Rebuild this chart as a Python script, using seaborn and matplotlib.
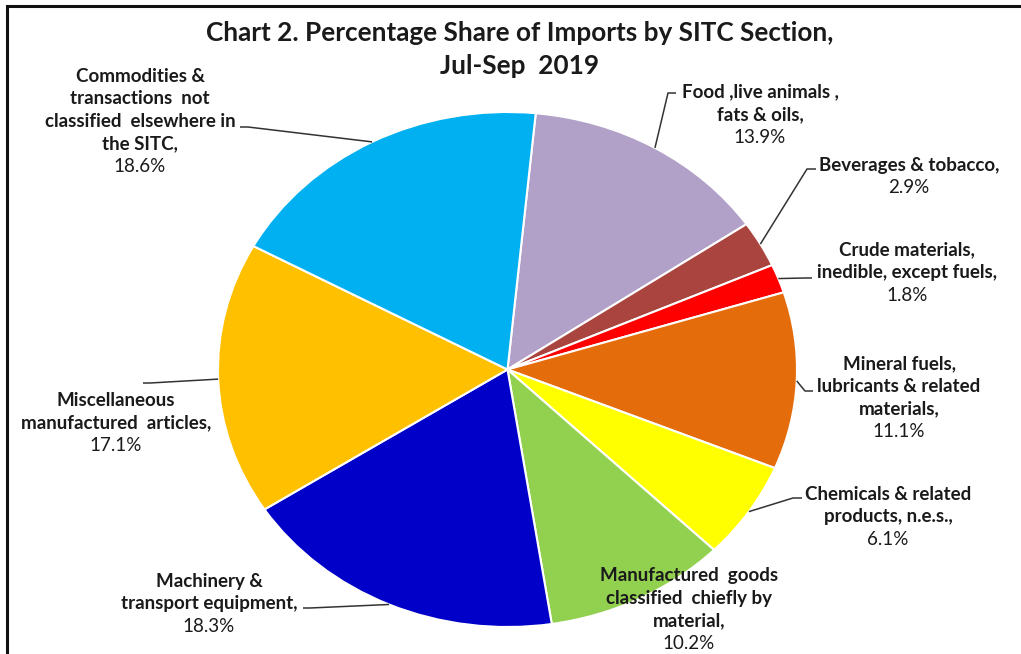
import matplotlib
matplotlib.use("Agg")
import matplotlib.pyplot as plt
import numpy as np
import seaborn as sns
from matplotlib.patches import Rectangle

# === DATA === #
sections = [
    "Food ,live animals ,\nfats & oils,",
    "Beverages & tobacco,",
    "Crude materials,\ninedible, except fuels,",
    "Mineral fuels,\nlubricants & related\nmaterials,",
    "Chemicals & related\nproducts, n.e.s.,",
    "Manufactured  goods\nclassified  chiefly by\nmaterial,",
    "Machinery &\ntransport equipment,",
    "Miscellaneous\nmanufactured  articles,",
    "Commodities &\ntransactions  not\nclassified  elsewhere in\nthe SITC,",
]
shares = [13.9, 2.9, 1.8, 11.1, 6.1, 10.2, 18.3, 17.1, 18.6]
colors = ["#B1A0C7", "#A9443F", "#FF0000", "#E46C0A", "#FFFF00",
          "#92D050", "#0000C8", "#FFC000", "#00B0F0"]

# === LAYOUT (pixels of the 1021x654 canvas) === #
W, H = 1021, 654
CX, CY, RX, RY = 507.5, 369.5, 289.5, 257.5
# label block: centre x, first line y
label_pos = [(760, 92), (909, 165), (907, 250), (899, 364), (888, 494),
             (689, 576), (209, 581), (116, 400), (140, 76)]
# leader: elbow point and attach point at the label (None = no leader)
leaders = [((668, 93), (676, 93)), ((807, 169), (816, 169)),
           ((805, 278), (812, 278)), ((805, 391), (813, 391)),
           ((793, 498), (802, 498)), None,
           ((310, 608), (303, 608)), ((150, 383), (143, 383)),
           ((248, 127), (240, 127))]
LINE_STEP = 22.6
LABEL_SIZE = 13.5
TITLE_SIZE = 18.8

sns.set_theme(style="white")
plt.rcParams["font.family"] = ["Lato", "DejaVu Sans"]


def to_data(px, py):
    return (px - CX) / RX, (CY - py) / RY


fig = plt.figure(figsize=(W / 100, H / 100), dpi=100)
ax = fig.add_axes([0, 0, 1, 1])

wedges, _ = ax.pie(
    shares, colors=colors, startangle=84.4, counterclock=False, radius=1,
    wedgeprops=dict(edgecolor="white", linewidth=1.5),
)
ax.set_aspect("auto")
x0, _ = to_data(0, 0)
x1, _ = to_data(W, 0)
_, y0 = to_data(0, H)
_, y1 = to_data(0, 0)
ax.set_xlim(x0, x1)
ax.set_ylim(y0, y1)
ax.axis("off")

for name, val, w, (lx, ly), lead in zip(sections, shares, wedges, label_pos, leaders):
    lines = name.split("\n")
    for i, ln in enumerate(lines):
        tx, ty = to_data(lx, ly + i * LINE_STEP)
        ax.text(tx, ty, ln, ha="center", va="center", fontsize=LABEL_SIZE,
                fontweight="bold", color="#1a1a1a")
    tx, ty = to_data(lx, ly + len(lines) * LINE_STEP)
    ax.text(tx, ty, f"{val:.1f}%", ha="center", va="center", fontsize=LABEL_SIZE,
            color="#1a1a1a")
    if lead is not None:
        mid = np.deg2rad((w.theta1 + w.theta2) / 2)
        ex, ey = np.cos(mid), np.sin(mid)
        bx, by = to_data(*lead[0])
        ax_, ay_ = to_data(*lead[1])
        ax.plot([ex, bx, ax_], [ey, by, ay_], color="#333333", lw=1.1,
                clip_on=False, solid_capstyle="butt")

tx, ty = to_data(520, 33)
ax.text(tx, ty, "Chart 2. Percentage Share of Imports by SITC Section,",
        ha="center", va="center", fontsize=TITLE_SIZE, fontweight="bold", color="#1a1a1a")
tx, ty = to_data(520, 66)
ax.text(tx, ty, "Jul-Sep  2019", ha="center", va="center", fontsize=TITLE_SIZE,
        fontweight="bold", color="#1a1a1a")

fig.patches.append(Rectangle((7 / W, -0.05), 1.1, 1.05 - 6 / H,
                             transform=fig.transFigure, fill=False,
                             edgecolor="#111111", linewidth=2.2))

fig.savefig("out.png", dpi=100)
